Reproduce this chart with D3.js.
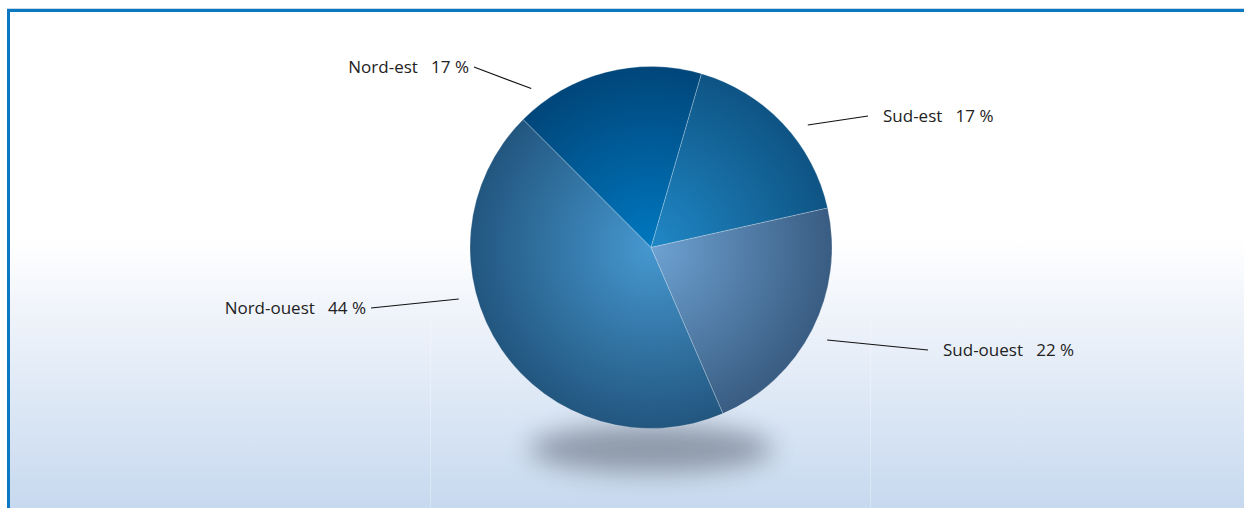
<!DOCTYPE html>
<html>
<head>
<meta charset="utf-8">
<script src="https://cdn.jsdelivr.net/npm/d3@7"></script>
<style>
  html, body { margin: 0; padding: 0; background: #ffffff; }
  svg { display: block; }
  text { font-family: "Open Sans", "DejaVu Sans", sans-serif; font-size: 17px; fill: #222; }
</style>
</head>
<body>
<svg id="chart" width="1244" height="508"></svg>
<script>
// Regional split of the total, clockwise from the upper left
const regions = ["Nord-est", "Sud-est", "Sud-ouest", "Nord-ouest"];
const shares = [17, 17, 22, 44];

// Radial shading per slice: colour at the hub and at the rim
const hubColors = ["#0078c0", "#2088c6", "#6ea2d2", "#4698d0"];
const rimColors = ["#00467a", "#0e5484", "#395c82", "#22567f"];

// Leader lines: angle (deg) of the inner end, and the outer end point
const leaderAngle = [323, 52, 117.7, 255];
const leaderEnd = [[474, 67], [868, 116], [928, 350], [371, 308]];

const W = 1244, H = 508;
const cx = 651, cy = 247.5, R = 181;

const svg = d3.select("#chart");
const defs = svg.append("defs");

// Panel background: white fading into pale blue at the bottom
const bg = defs.append("linearGradient").attr("id", "bgGrad")
  .attr("x1", 0).attr("y1", 0).attr("x2", 0).attr("y2", 1);
bg.append("stop").attr("offset", "0").attr("stop-color", "#ffffff");
bg.append("stop").attr("offset", "0.46").attr("stop-color", "#ffffff");
bg.append("stop").attr("offset", "0.62").attr("stop-color", "#eef3fa");
bg.append("stop").attr("offset", "1").attr("stop-color", "#c7d9ef");

svg.append("rect").attr("x", 10).attr("y", 11).attr("width", W - 10).attr("height", H - 11)
  .attr("fill", "url(#bgGrad)");

// faint vertical guides in the lower panel
[430, 870].forEach(x => {
  svg.append("line").attr("x1", x + 0.5).attr("x2", x + 0.5).attr("y1", 318).attr("y2", H)
    .attr("stroke", "#ffffff").attr("stroke-opacity", 0.3).attr("stroke-width", 1);
});

// frame: thin grey hairline, then the blue rule along top and left
svg.append("rect").attr("x", 7).attr("y", 8).attr("width", W - 7).attr("height", 1).attr("fill", "#c9d9e8");
svg.append("rect").attr("x", 7).attr("y", 9).attr("width", W - 7).attr("height", 3).attr("fill", "#0a78c2");
svg.append("rect").attr("x", 7).attr("y", 9).attr("width", 3).attr("height", H - 9).attr("fill", "#0a78c2");

// soft drop shadow under the pie
const blur = defs.append("filter").attr("id", "shadowBlur")
  .attr("x", "-50%").attr("y", "-100%").attr("width", "200%").attr("height", "300%");
blur.append("feGaussianBlur").attr("stdDeviation", 13);
svg.append("ellipse").attr("cx", cx).attr("cy", 449).attr("rx", 122).attr("ry", 24)
  .attr("fill", "#8a95a5").attr("opacity", 0.95).attr("filter", "url(#shadowBlur)");

// slice gradients centred on the pie hub (in the pie group's own coordinates)
regions.forEach((name, i) => {
  const g = defs.append("radialGradient").attr("id", "slice" + i)
    .attr("gradientUnits", "userSpaceOnUse")
    .attr("cx", 0).attr("cy", 0).attr("r", R).attr("fx", 0).attr("fy", 0);
  g.append("stop").attr("offset", "0").attr("stop-color", hubColors[i]);
  g.append("stop").attr("offset", "1").attr("stop-color", rimColors[i]);
});

const pie = d3.pie().sort(null).value(d => d)
  .startAngle(-Math.PI / 4).endAngle(2 * Math.PI - Math.PI / 4);
const arcs = pie(shares);
const arc = d3.arc().innerRadius(0).outerRadius(R);

const pieG = svg.append("g").attr("transform", `translate(${cx},${cy})`);
pieG.selectAll("path.slice").data(arcs).join("path")
  .attr("class", "slice")
  .attr("d", arc)
  .attr("fill", (d, i) => `url(#slice${i})`)
  .attr("stroke", "#ffffff").attr("stroke-opacity", 0.3).attr("stroke-width", 0.8);

// leader lines and labels
const polar = (deg, r) => {
  const a = deg * Math.PI / 180;
  return [cx + r * Math.sin(a), cy - r * Math.cos(a)];
};

arcs.forEach((d, i) => {
  const p0 = polar(leaderAngle[i], 199);
  const p1 = leaderEnd[i];
  svg.append("line")
    .attr("x1", p0[0]).attr("y1", p0[1]).attr("x2", p1[0]).attr("y2", p1[1])
    .attr("stroke", "#111").attr("stroke-width", 1.1);
  const right = p1[0] > cx;
  svg.append("text")
    .attr("x", right ? p1[0] + 15 : p1[0] - 5)
    .attr("y", p1[1])
    .attr("dy", "0.35em")
    .attr("text-anchor", right ? "start" : "end")
    .attr("xml:space", "preserve")
    .text(`${regions[i]}   ${d.data} %`);
});
</script>
</body>
</html>
